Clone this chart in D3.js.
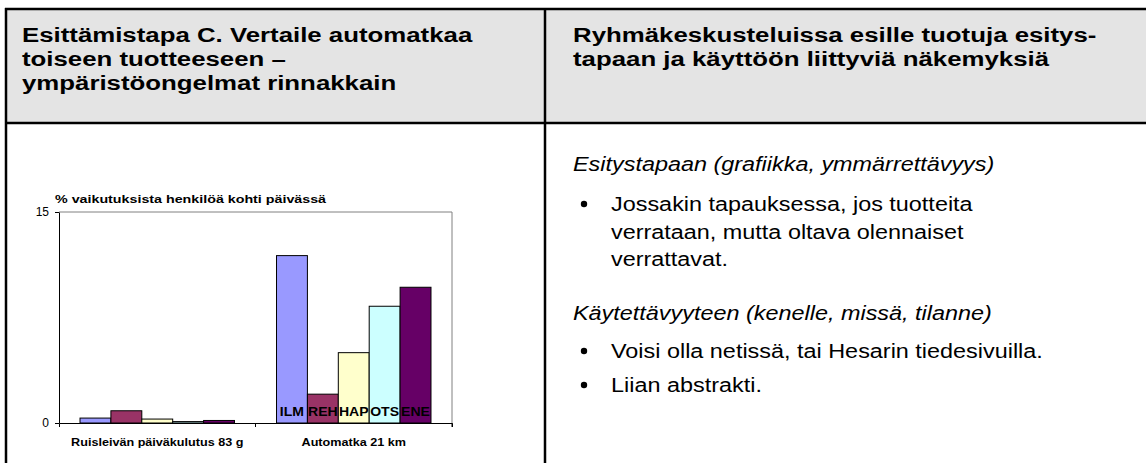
<!DOCTYPE html>
<html>
<head>
<meta charset="utf-8">
<script src="https://cdn.jsdelivr.net/npm/d3@7"></script>
<style>
  html, body { margin: 0; padding: 0; background: #fff; }
  svg { display: block; font-family: Arial, "Liberation Sans", sans-serif; }
</style>
</head>
<body>
<svg id="svg" width="1146" height="463"></svg>
<script>
// chart data
const categories = ["Ruisleivän päiväkulutus 83 g", "Automatka 21 km"];
const seriesNames = ["ILM", "REH", "HAP", "OTS", "ENE"];
const seriesColors = ["#9999ff", "#993366", "#ffffcc", "#ccffff", "#660066"];
const ruisleipaValues = [0.35, 0.87, 0.28, 0.1, 0.18];
const automatkaValues = [11.9, 2.05, 5.0, 8.3, 9.65];
const yTicks = [0, 15];
const chartTitle = "% vaikutuksista henkilöä kohti päivässä";

// table texts
const headerLeft = ["Esittämistapa C. Vertaile automatkaa", "toiseen tuotteeseen –", "ympäristöongelmat rinnakkain"];
const headerRight = ["Ryhmäkeskusteluissa esille tuotuja esitys-", "tapaan ja käyttöön liittyviä näkemyksiä"];

const svg = d3.select("#svg");

// the source picture is a bit wider than tall, so text is stretched sideways
function widen(sel, k) {
  sel.each(function() {
    const w = this.getComputedTextLength();
    this.setAttribute("textLength", w * k);
    this.setAttribute("lengthAdjust", "spacingAndGlyphs");
  });
}

// table background + lines
svg.append("rect").attr("x", 6).attr("y", 9).attr("width", 1146).attr("height", 114).attr("fill", "#e4e4e4");
const lines = [
  [5, 9, 1146, 9],
  [6, 8, 6, 463],
  [5, 123, 1146, 123],
  [545, 8, 545, 463]
];
svg.selectAll("line.tbl").data(lines).enter().append("line")
  .attr("class", "tbl")
  .attr("x1", d => d[0]).attr("y1", d => d[1])
  .attr("x2", d => d[2]).attr("y2", d => d[3])
  .attr("stroke", "#000").attr("stroke-width", 2.5);

svg.selectAll("text.hl").data(headerLeft).enter().append("text")
  .attr("class", "hl")
  .attr("x", 22).attr("y", (d, i) => 42 + i * 24)
  .attr("font-size", 20).attr("font-weight", "bold")
  .text(d => d)
  .call(widen, 1.29);

svg.selectAll("text.hr").data(headerRight).enter().append("text")
  .attr("class", "hr")
  .attr("x", 573).attr("y", (d, i) => 42 + i * 24)
  .attr("font-size", 20).attr("font-weight", "bold")
  .text(d => d)
  .call(widen, 1.29);

// right column body
const body = svg.append("g").attr("font-size", 20);
body.append("text").attr("x", 573).attr("y", 171).attr("font-style", "italic")
  .text("Esitystapaan (grafiikka, ymmärrettävyys)");
const bullet1 = ["Jossakin tapauksessa, jos tuotteita", "verrataan, mutta oltava olennaiset", "verrattavat."];
body.selectAll("text.b1").data(bullet1).enter().append("text")
  .attr("class", "b1").attr("x", 611).attr("y", (d, i) => 211 + i * 27.5).text(d => d);
body.append("circle").attr("cx", 584).attr("cy", 204).attr("r", 3.2).attr("fill", "#000");
body.append("text").attr("x", 573).attr("y", 320).attr("font-style", "italic")
  .text("Käytettävyyteen (kenelle, missä, tilanne)");
body.append("circle").attr("cx", 584).attr("cy", 351).attr("r", 3.2).attr("fill", "#000");
body.append("text").attr("x", 611).attr("y", 358).text("Voisi olla netissä, tai Hesarin tiedesivuilla.");
body.append("circle").attr("cx", 584).attr("cy", 385).attr("r", 3.2).attr("fill", "#000");
body.append("text").attr("x", 611).attr("y", 392).text("Liian abstrakti.");
body.selectAll("text").call(widen, 1.17);

// bar chart
const plot = { left: 59, right: 452, top: 212, bottom: 423 };
const x0 = d3.scaleBand().domain(categories).range([plot.left, plot.right]);
const x1 = d3.scaleBand().domain(seriesNames).range([0, x0.bandwidth()]).paddingOuter(0.68);
const y = d3.scaleLinear().domain([0, 15]).range([plot.bottom, plot.top]);

const chart = svg.append("g");
// plot frame (top, right)
chart.append("path")
  .attr("d", `M${plot.left},${plot.top}H${plot.right}V${plot.bottom}`)
  .attr("fill", "none").attr("stroke", "#808080").attr("stroke-width", 1);

const dataRows = [ruisleipaValues, automatkaValues].map((vals, ci) =>
  vals.map((v, si) => ({ cat: categories[ci], series: seriesNames[si], value: v, color: seriesColors[si] })));

const groups = chart.selectAll("g.grp").data(dataRows).enter().append("g")
  .attr("class", "grp")
  .attr("transform", (d, i) => `translate(${x0(categories[i])},0)`);

groups.selectAll("rect").data(d => d).enter().append("rect")
  .attr("x", d => x1(d.series))
  .attr("width", x1.bandwidth())
  .attr("y", d => y(d.value))
  .attr("height", d => y(0) - y(d.value))
  .attr("fill", d => d.color)
  .attr("stroke", "#000").attr("stroke-width", 1);

// labels inside second group
chart.append("g").selectAll("text").data(dataRows[1]).enter().append("text")
  .attr("x", d => x0(d.cat) + x1(d.series) + x1.bandwidth() / 2)
  .attr("y", 416)
  .attr("text-anchor", "middle")
  .attr("font-size", 12).attr("font-weight", "bold")
  .attr("fill", "#000")
  .text(d => d.series)
  .call(widen, 1.17);

// axes
const yAxis = d3.axisLeft(y).tickValues(yTicks).tickSize(4).tickSizeOuter(0);
const yG = chart.append("g").attr("transform", `translate(${plot.left},0)`).call(yAxis);
yG.select(".domain").attr("stroke", "#000");
yG.selectAll("text").attr("font-size", 12).attr("font-family", "Arial, 'Liberation Sans', sans-serif").attr("dx", -3).attr("fill", "#000");

const xAxis = d3.axisBottom(x0).tickSize(4).tickSizeOuter(4).tickFormat("");
const xG = chart.append("g").attr("transform", `translate(0,${plot.bottom})`).call(xAxis);
xG.selectAll(".tick line").attr("x1", x0.bandwidth() / 2).attr("x2", x0.bandwidth() / 2);
xG.select(".domain").attr("stroke", "#000");

chart.selectAll("text.cat").data(categories).enter().append("text")
  .attr("class", "cat")
  .attr("x", d => x0(d) + x0.bandwidth() / 2)
  .attr("y", 446)
  .attr("text-anchor", "middle")
  .attr("font-size", 10.5).attr("font-weight", "bold")
  .text(d => d)
  .call(widen, 1.2);

chart.append("text").attr("x", 55).attr("y", 203)
  .attr("font-size", 11.5).attr("font-weight", "bold")
  .text(chartTitle)
  .call(widen, 1.24);
</script>
</body>
</html>
